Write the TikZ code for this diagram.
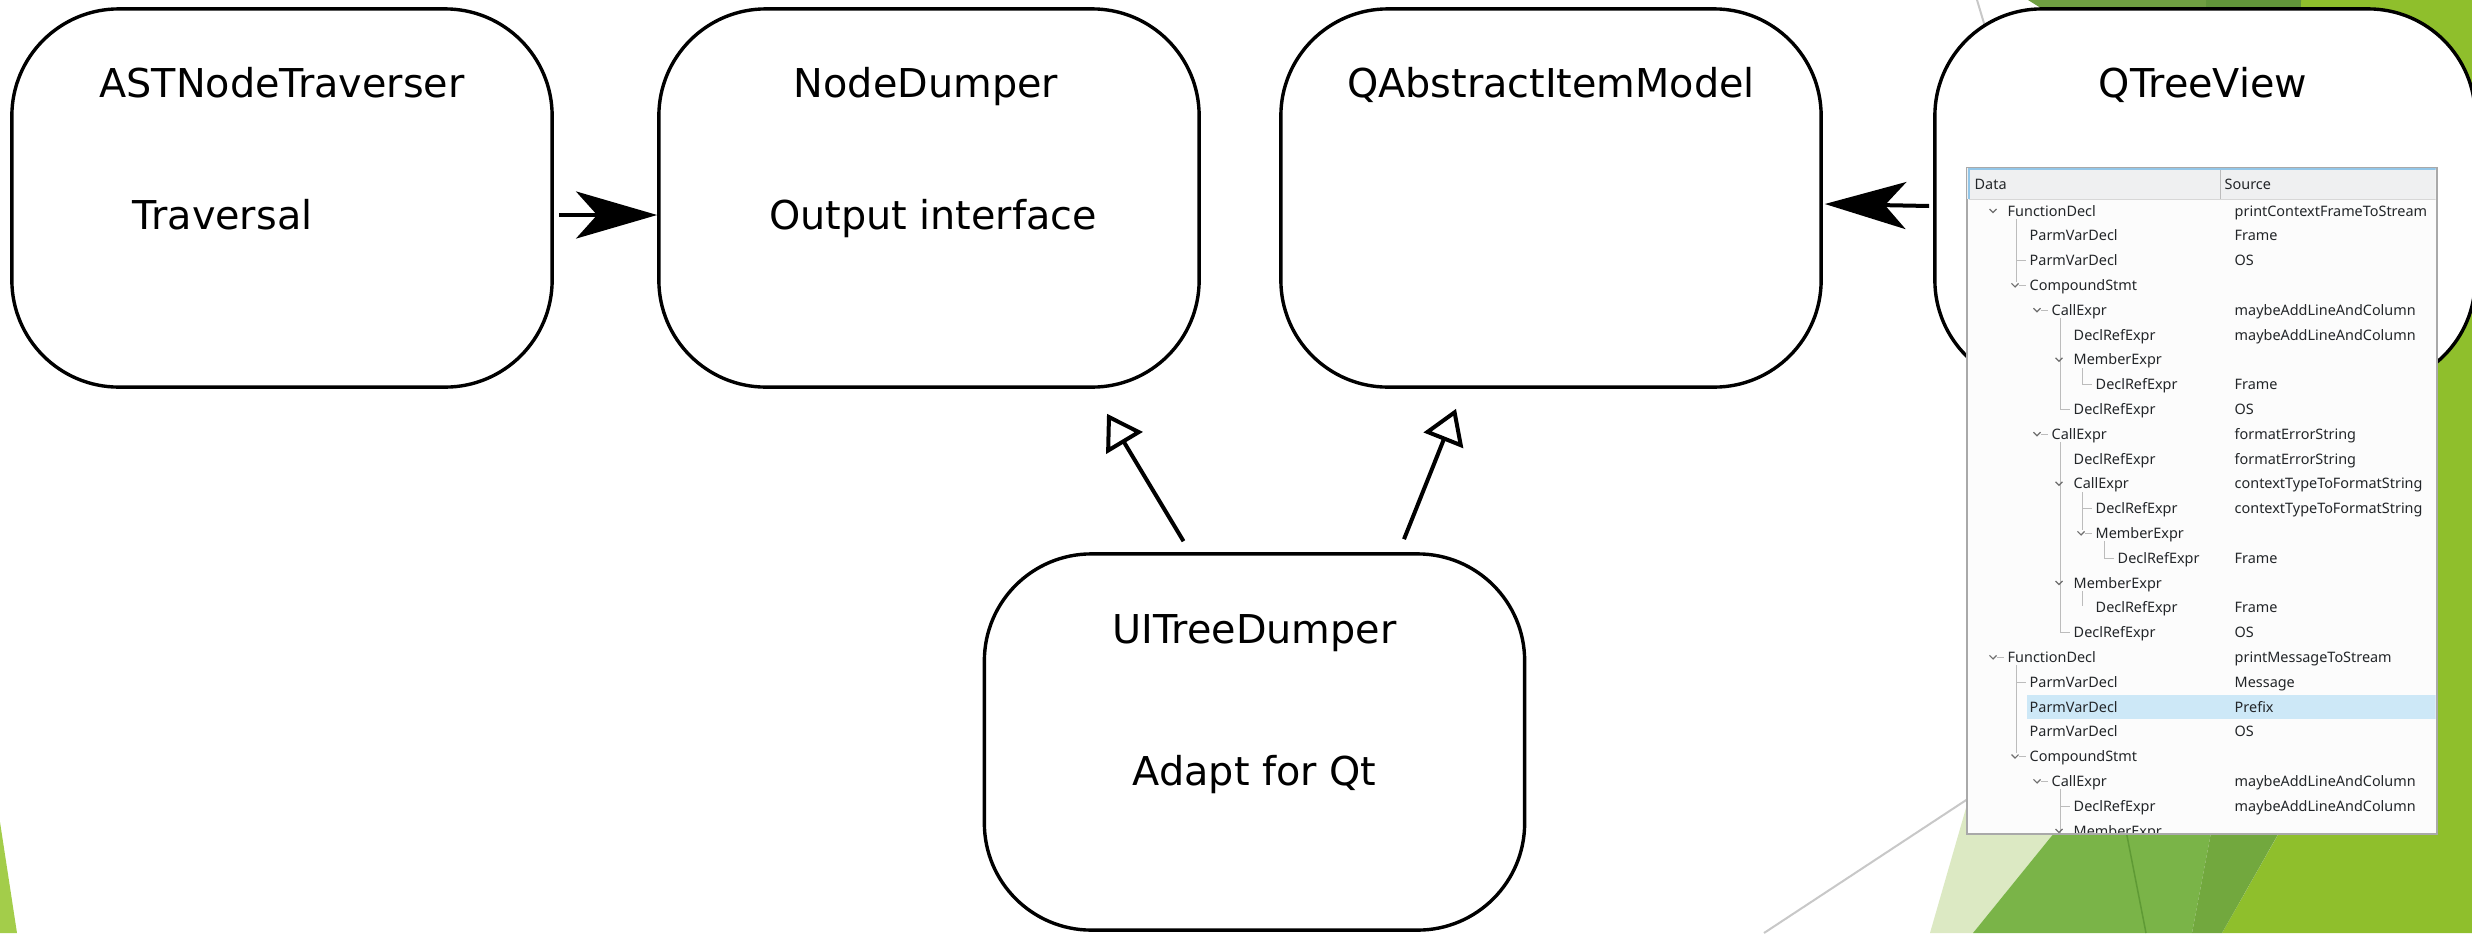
\documentclass[tikz,border=0pt]{standalone}
\usepackage{fontspec}
\setmainfont{DejaVu Sans}
\newfontfamily\treefont{Noto Sans}
\usetikzlibrary{arrows.meta,calc}

% backdrop palette
\definecolor{limegreen}{HTML}{8FBF2C}
\definecolor{topgreen}{HTML}{6F9F42}
\definecolor{topdark}{HTML}{61953A}
\definecolor{palegreen}{HTML}{DCE9C3}
\definecolor{midgreen}{HTML}{7AB448}
\definecolor{deepgreen}{HTML}{72A83E}
\definecolor{wedgegreen}{HTML}{A3CD4A}
\definecolor{seamgreen}{HTML}{5F9A35}
\definecolor{backgray}{HTML}{C8C8C8}
% tree widget palette
\definecolor{treeink}{HTML}{232629}
\definecolor{treegray}{HTML}{BCBCBC}
\definecolor{chevgray}{HTML}{6E6E6E}
\definecolor{headfill}{HTML}{EFF0F1}
\definecolor{headblue}{HTML}{93C6E8}
\definecolor{selblue}{HTML}{CDE8F7}
\definecolor{framegray}{HTML}{A9A9A9}
\definecolor{viewbg}{HTML}{FCFCFC}

\begin{document}
\begin{tikzpicture}[x=0.01cm, y=-0.01cm,
  box/.style={draw, line width=0.034cm, fill=white, rounded corners=1.07cm,
    minimum width=5.4cm, minimum height=3.78cm, inner sep=0pt},
  title/.style={anchor=base, inner sep=0pt, font=\fontsize{11.3pt}{13pt}\selectfont},
  link/.style={line width=0.04cm, -{Stealth[length=8.1mm,width=4.7mm,inset=2.1mm]}},
  inherit/.style={line width=0.04cm, -{Triangle[open,length=3.4mm,width=4.2mm]}},
  cell/.style={anchor=base west, inner sep=0pt, text=treeink,
    font=\treefont\fontsize{4.1pt}{5pt}\selectfont},
  treeline/.style={draw=treegray, line width=0.01cm},
  chev/.style={draw=chevgray, line width=0.012cm},
  backline/.style={draw=backgray, line width=0.02cm},
  seam/.style={draw=seamgreen, line width=0.015cm}]

\useasboundingbox (0,0) rectangle (2472,933);
\fill[white] (0,0) rectangle (2472,933);

% ---- faceted backdrop ----
\fill[wedgegreen] (0,822) -- (17,933) -- (0,933) -- cycle;
\fill[limegreen] (2301,0) -- (2472,0) -- (2472,933) -- (2222,933) -- (2279,833) -- (2300,60) -- cycle;
\fill[topgreen] (2028,0) -- (2206,0) -- (2206,60) -- (2124,60) -- cycle;
\fill[topdark] (2206,0) -- (2301,0) -- (2300,60) -- (2206,60) -- cycle;
\fill[palegreen] (1930,933) -- (2000,690) -- (2170,690) -- (1973,933) -- cycle;
\fill[midgreen] (1973,933) -- (2170,690) -- (2238,690) -- (2192,933) -- cycle;
\fill[deepgreen] (2192,933) -- (2238,690) -- (2360,690) -- (2222,933) -- cycle;
\draw[seam] (2120,800) -- (2146,933);
\draw[backline] (1977,0) -- (2013,120);
\draw[backline] (1764,933) -- (2100,712);

% ---- classes ----
\node[box] (A) at (282,198) {};
\node[box] (B) at (929,198) {};
\node[box] (C) at (1551,198) {};
\node[box] (D) at (2205,198) {};
\node[box, minimum height=3.76cm] (E) at (1254.5,742) {};

\node[title] (At) at ($(A.north)+(0,90)$) {ASTNodeTraverser};
\node[title, anchor=base west] (As) at ($(A.north west)+(122,222)$) {Traversal};
\node[title] (Bt) at ($(B.north)+(-3,90)$) {NodeDumper};
\node[title] (Bs) at ($(B.north)+(4,222)$) {Output interface};
\node[title] (Ct) at ($(C.north)+(0,90)$) {QAbstractItemModel};
\node[title] (Dt) at ($(D.north)+(-2,90)$) {QTreeView};
\node[title] (Et) at ($(E.north)+(0,91)$) {UITreeDumper};
\node[title] (Es) at ($(E.north)+(0,233)$) {Adapt for Qt};

% ---- relations ----
\draw[link] ($(A.east)+(5,17)$) -- ($(B.west)+(0,17)$);
\draw[link] ($(D.west)+(-4,8)$) -- ($(C.east)+(2,6)$);
\draw[inherit] ($(E.north)+(-71,-11)$) -- ($(B.south)+(178,25)$);
\draw[inherit] ($(E.north)+(149.5,-13)$) -- ($(C.south)+(-95,20)$);

% ---- tree widget ----
\node[draw=framegray, fill=viewbg, line width=0.015cm, inner sep=0pt,
  minimum width=4.7cm, minimum height=6.66cm, anchor=north west] (tv) at (1966,167) {};
\begin{scope}
\clip (1967,168) rectangle (2435.5,832.5);
% header
\fill[headfill] (1967,168) rectangle (2436,199);
\draw[draw=headblue, line width=0.015cm] (1969,199) -- (1969,169) -- (2436,169);
\draw[draw=treegray, line width=0.01cm] (2220,170) -- (2220,199);
\draw[draw=treegray!60, line width=0.01cm] (1969,199.5) -- (2436,199.5);
\node[cell] (hData) at (1974,189) {Data};
\node[cell] (hSource) at (2224,189) {Source};
% selected row
\fill[selblue] (2027,695) rectangle (2436,719);

% branch lines
\draw[treeline] (2016,219) -- (2016,282) (2016,665) -- (2016,753);
\draw[treeline] (2060,318) -- (2060,409.4) -- (2070,409.4);
\draw[treeline] (2060,442) -- (2060,632.6) -- (2070,632.6);
\draw[treeline] (2060,789) -- (2060,840);
\draw[treeline] (2082,368) -- (2082,384.6) -- (2092,384.6);
\draw[treeline] (2082,492) -- (2082,530);
\draw[treeline] (2082,591) -- (2082,606);
\draw[treeline] (2104,541) -- (2104,558.2) -- (2114,558.2);
\foreach \x/\y in {2016/260.6, 2082/508.6, 2016/682.2, 2060/806.2}
  \draw[treeline] (\x,\y) -- (\x+10,\y);

% expand markers: x of chevron / row y / dash
\foreach \cx/\y/\dash in {1993/211/0, 2015/285.4/1, 2037/310.2/1, 2059/359.8/0,
    2037/434.2/1, 2059/483.8/0, 2081/533.4/1, 2059/583/0, 1993/657.4/1,
    2015/756.6/1, 2037/781.4/1, 2059/831/0}{
  \draw[chev] (\cx-3.5,\y-2) -- (\cx,\y+1.5) -- (\cx+3.5,\y-2);
  \ifnum\dash=1 \draw[treeline] (\cx+4,\y) -- (\cx+11,\y); \fi
}

% rows: index / depth / item / source
\foreach \r/\l/\d/\s in {
  1/0/FunctionDecl/printContextFrameToStream,
  2/1/ParmVarDecl/Frame,
  3/1/ParmVarDecl/OS,
  4/1/CompoundStmt/{},
  5/2/CallExpr/maybeAddLineAndColumn,
  6/3/DeclRefExpr/maybeAddLineAndColumn,
  7/3/MemberExpr/{},
  8/4/DeclRefExpr/Frame,
  9/3/DeclRefExpr/OS,
  10/2/CallExpr/formatErrorString,
  11/3/DeclRefExpr/formatErrorString,
  12/3/CallExpr/contextTypeToFormatString,
  13/4/DeclRefExpr/contextTypeToFormatString,
  14/4/MemberExpr/{},
  15/5/DeclRefExpr/Frame,
  16/3/MemberExpr/{},
  17/4/DeclRefExpr/Frame,
  18/3/DeclRefExpr/OS,
  19/0/FunctionDecl/printMessageToStream,
  20/1/ParmVarDecl/Message,
  21/1/ParmVarDecl/Prefix,
  22/1/ParmVarDecl/OS,
  23/1/CompoundStmt/{},
  24/2/CallExpr/maybeAddLineAndColumn,
  25/3/DeclRefExpr/maybeAddLineAndColumn,
  26/3/MemberExpr/{}}{
  \pgfmathsetmacro\yy{211+(\r-1)*24.8+5}
  \pgfmathsetmacro\xx{2007+22*\l}
  \node[cell] (item\r) at (\xx,\yy) {\d};
  \node[cell] (src\r) at (2234,\yy) {\s};
}
\end{scope}
\end{tikzpicture}
\end{document}
